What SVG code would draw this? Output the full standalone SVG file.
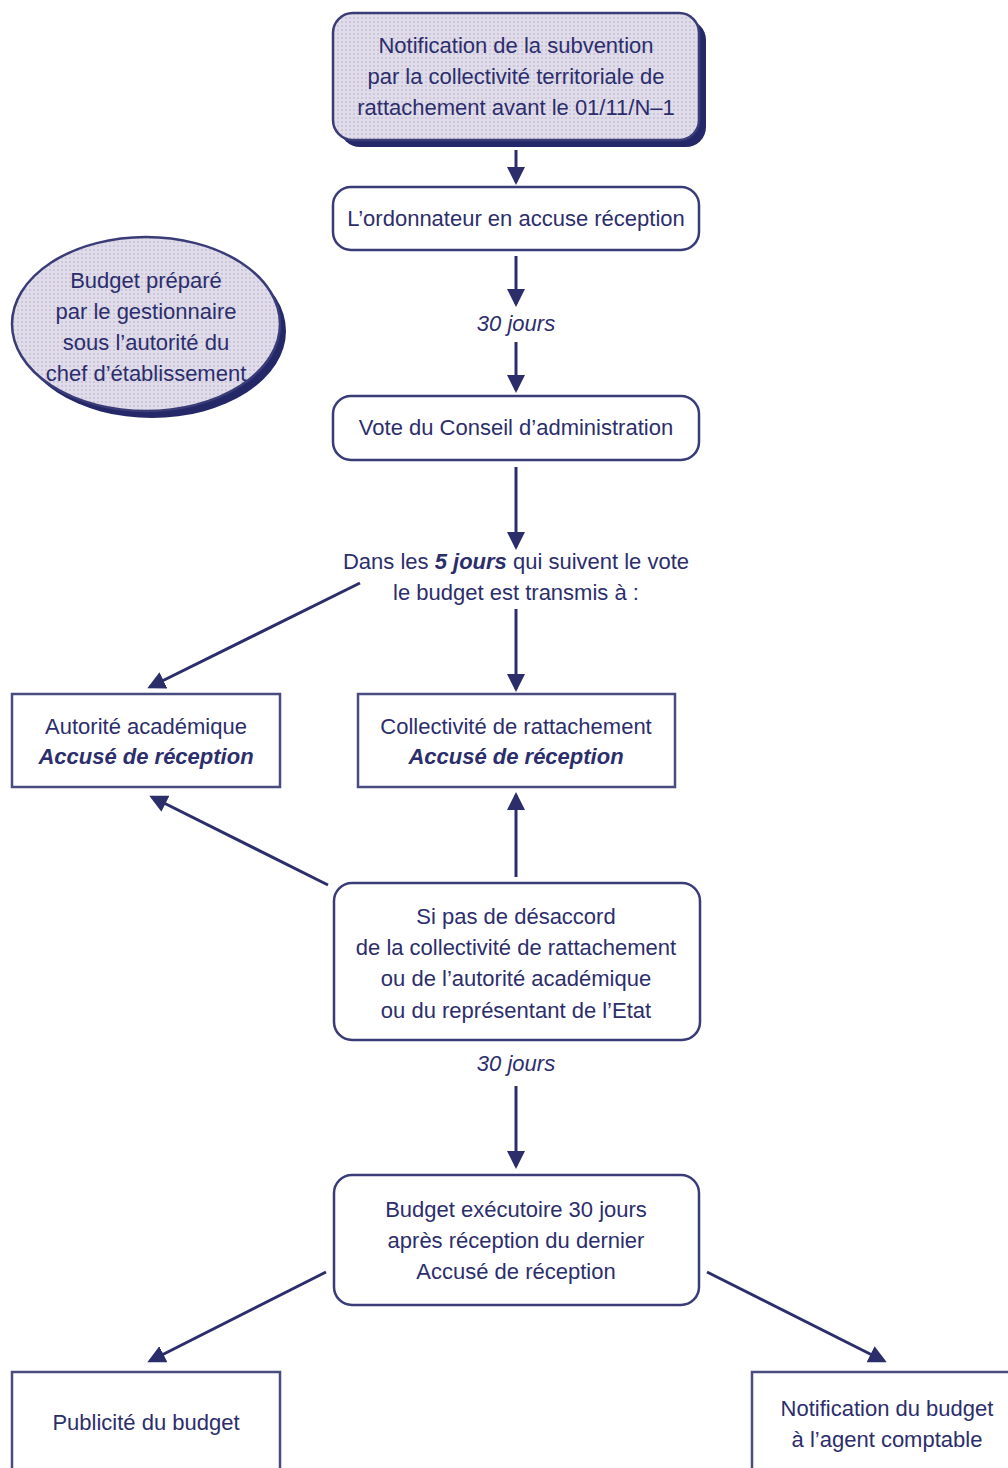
<svg xmlns="http://www.w3.org/2000/svg" width="1008" height="1468" viewBox="0 0 1008 1468">
<style>
text{font-family:"Liberation Sans",Arial,sans-serif;font-size:22px;fill:#2c2e6c;text-anchor:middle}
.it{font-style:italic}
.bi{font-style:italic;font-weight:bold}
.box{fill:#fff;stroke:#3a3c78;stroke-width:2.5}
.sq{fill:#fff;stroke:#4a4c80;stroke-width:2.5}
.pat{fill:url(#dots);stroke:#3a3c78;stroke-width:2.5}
.sh{fill:#252868}
.ln{stroke:#2c2e6c;stroke-width:3;fill:none;marker-end:url(#ah)}
</style>
<defs>
<pattern id="dots" width="4" height="4" patternUnits="userSpaceOnUse">
<rect width="4" height="4" fill="#e0dcea"/>
<circle cx="2" cy="2" r="0.9" fill="#c2bdd4"/>
</pattern>
<marker id="ah" markerWidth="6" markerHeight="6" refX="5" refY="3" orient="auto" markerUnits="strokeWidth">
<path d="M0,0 L6,3 L0,6 Z" fill="#2c2e6c"/>
</marker>
</defs>
<rect width="1008" height="1468" fill="#fff"/>

<g id="connectors">
<line class="ln" x1="516" y1="150" x2="516" y2="182"/>
<line class="ln" x1="516" y1="256" x2="516" y2="304"/>
<line class="ln" x1="516" y1="342" x2="516" y2="390"/>
<line class="ln" x1="516" y1="467" x2="516" y2="547"/>
<line class="ln" x1="360" y1="583" x2="150" y2="687"/>
<line class="ln" x1="516" y1="609" x2="516" y2="689"/>
<line class="ln" x1="328" y1="885" x2="152" y2="797"/>
<line class="ln" x1="516" y1="877" x2="516" y2="795"/>
<line class="ln" x1="516" y1="1086" x2="516" y2="1166"/>
<line class="ln" x1="326" y1="1272" x2="150" y2="1361"/>
<line class="ln" x1="707" y1="1272" x2="884" y2="1361"/>
</g>

<g id="n-notif-subvention">
<rect class="sh" x="340" y="20" width="366" height="127" rx="20"/>
<rect class="pat" x="333" y="13" width="366" height="127" rx="20"/>
<text x="516" y="53">Notification de la subvention</text>
<text x="516" y="84">par la collectivité territoriale de</text>
<text x="516" y="115">rattachement avant le 01/11/N–1</text>
</g>

<g id="n-budget-prepare">
<ellipse class="sh" cx="152" cy="331" rx="134" ry="87"/>
<ellipse class="pat" cx="146" cy="324" rx="134" ry="87"/>
<text x="146" y="288">Budget préparé</text>
<text x="146" y="319">par le gestionnaire</text>
<text x="146" y="350">sous l’autorité du</text>
<text x="146" y="381">chef d’établissement</text>
</g>

<g id="n-ordonnateur">
<rect class="box" x="333" y="187" width="366" height="63" rx="18"/>
<text x="516" y="226">L’ordonnateur en accuse réception</text>
</g>

<text class="it" x="516" y="331">30 jours</text>

<g id="n-vote">
<rect class="box" x="333" y="396" width="366" height="64" rx="18"/>
<text x="516" y="435">Vote du Conseil d’administration</text>
</g>

<g id="n-dans-5-jours">
<text x="516" y="569">Dans les <tspan class="bi">5 jours</tspan> qui suivent le vote</text>
<text x="516" y="600">le budget est transmis à :</text>
</g>

<g id="n-autorite">
<rect class="sq" x="12" y="694" width="268" height="93"/>
<text x="146" y="734">Autorité académique</text>
<text class="bi" x="146" y="764">Accusé de réception</text>
</g>

<g id="n-collectivite">
<rect class="sq" x="358" y="694" width="317" height="93"/>
<text x="516" y="734">Collectivité de rattachement</text>
<text class="bi" x="516" y="764">Accusé de réception</text>
</g>

<g id="n-si-pas">
<rect class="box" x="334" y="883" width="366" height="157" rx="18"/>
<text x="516" y="924">Si pas de désaccord</text>
<text x="516" y="955">de la collectivité de rattachement</text>
<text x="516" y="986">ou de l’autorité académique</text>
<text x="516" y="1018">ou du représentant de l’Etat</text>
</g>

<text class="it" x="516" y="1071">30 jours</text>

<g id="n-executoire">
<rect class="box" x="334" y="1175" width="365" height="130" rx="18"/>
<text x="516" y="1217">Budget exécutoire 30 jours</text>
<text x="516" y="1248">après réception du dernier</text>
<text x="516" y="1279">Accusé de réception</text>
</g>

<g id="n-publicite">
<rect class="sq" x="12" y="1372" width="268" height="110"/>
<text x="146" y="1430">Publicité du budget</text>
</g>

<g id="n-notif-budget">
<rect class="sq" x="752" y="1372" width="270" height="110"/>
<text x="887" y="1416">Notification du budget</text>
<text x="887" y="1447">à l’agent comptable</text>
</g>
</svg>
